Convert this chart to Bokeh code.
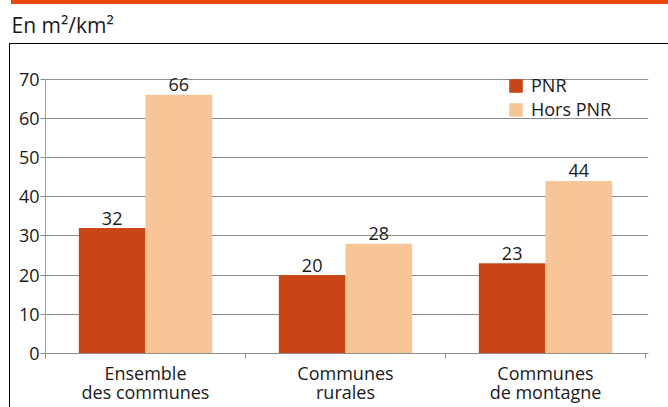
from bokeh.plotting import figure
from bokeh.models import (Range1d, FixedTicker, Legend, LegendItem, ColumnDataSource)
from bokeh.core.properties import value
from bokeh.embed import file_html
from bokeh.resources import INLINE

# ---- data ----
categories = ["Ensemble\ndes communes", "Communes\nrurales", "Communes\nde montagne"]
series_names = ["PNR", "Hors PNR"]
pnr = [32, 20, 23]
hors = [66, 28, 44]
y_ticks = [0, 10, 20, 30, 40, 50, 60, 70]
title_text = "En m\u00b2/km\u00b2"

# ---- style ----
FONT = "Open Sans"
C_PNR = "#C94516"
C_HORS = "#F8C696"
C_ORANGE = "#E8490F"
C_GRID = "#8C8C8C"
C_TEXT = "#1a1a1a"

# frame spans 45..357 px vertically; 0..70 occupies 79..357 px
Y_TOP = 70 + 34 * 70 / 278

p = figure(width=668, height=407, output_backend="svg", toolbar_location=None,
           x_range=Range1d(0, 3.015), y_range=Range1d(0, Y_TOP),
           min_border_left=45, min_border_right=20, min_border_top=45,
           min_border_bottom=50)
p.outline_line_color = None
p.background_fill_color = "white"
p.border_fill_color = None
p.border_fill_alpha = 0
# orange rule on top, and the black frame box (top + left edges)
p.styles = {
    "background-color": "white",
    "background-image": ("linear-gradient(%s, %s), "
                         "linear-gradient(#000000, #000000), "
                         "linear-gradient(#000000, #000000)") % (C_ORANGE, C_ORANGE),
    "background-position": "11px 0px, 9px 43px, 9px 43px",
    "background-size": "100% 4px, 100% 1px, 1px 100%",
    "background-repeat": "no-repeat",
}

# title
p.title.text = title_text
p.title.align = "left"
p.title.vertical_align = "bottom"
p.title.offset = -34
p.title.standoff = 13
p.title.text_font = FONT
p.title.text_font_size = "21px"
p.title.text_font_style = "normal"
p.title.text_color = C_TEXT

idx = list(range(len(categories)))
x_pnr = [i + 1 / 3 for i in idx]
x_hors = [i + 2 / 3 for i in idx]

src_p = ColumnDataSource(dict(x=x_pnr, top=pnr, lab=[str(v) for v in pnr]))
src_h = ColumnDataSource(dict(x=x_hors, top=hors, lab=[str(v) for v in hors]))

r1 = p.vbar(x="x", top="top", width=1 / 3, source=src_p, fill_color=C_PNR, line_color=None)
r2 = p.vbar(x="x", top="top", width=1 / 3, source=src_h, fill_color=C_HORS, line_color=None)

for s in (src_p, src_h):
    p.text(x="x", y="top", text="lab", source=s, text_align="center",
           text_baseline="alphabetic", y_offset=-10, text_font=value(FONT),
           text_font_size="18px", text_color=C_TEXT)

# axes
p.yaxis.ticker = FixedTicker(ticks=y_ticks)
p.yaxis.bounds = (0, 70)
p.yaxis.axis_line_color = "#A0A0A0"
p.yaxis.major_tick_line_color = C_GRID
p.yaxis.major_tick_out = 5
p.yaxis.major_tick_in = 0
p.yaxis.minor_tick_line_color = None
p.yaxis.major_label_standoff = 1
p.yaxis.major_label_text_font = FONT
p.yaxis.major_label_text_font_size = "18px"
p.yaxis.major_label_text_color = C_TEXT

p.xaxis.ticker = FixedTicker(ticks=[i + 0.5 for i in idx], minor_ticks=[0] + [i + 1 for i in idx])
p.xaxis.major_label_overrides = {i + 0.5: c for i, c in zip(idx, categories)}
p.xaxis.axis_line_color = C_GRID
p.xaxis.major_tick_line_color = None
p.xaxis.major_tick_out = 0
p.xaxis.major_tick_in = 0
p.xaxis.minor_tick_line_color = C_GRID
p.xaxis.minor_tick_out = 5
p.xaxis.minor_tick_in = 0
p.xaxis.major_label_standoff = 2
p.xaxis.major_label_text_font = FONT
p.xaxis.major_label_text_font_size = "18px"
p.xaxis.major_label_text_color = C_TEXT
p.xaxis.major_label_text_line_height = 0.82

p.xgrid.grid_line_color = None
p.ygrid.grid_line_color = C_GRID
p.ygrid.grid_line_width = 1

legend = Legend(items=[LegendItem(label=series_names[0], renderers=[r1]),
                       LegendItem(label=series_names[1], renderers=[r2])],
                location=(462, 232), orientation="vertical",
                glyph_width=17, glyph_height=17, label_height=17,
                label_standoff=7, spacing=-4, padding=0, margin=0,
                background_fill_alpha=0, border_line_color=None,
                label_text_font=FONT, label_text_font_size="18px",
                label_text_color=C_TEXT, label_text_baseline="middle")
p.add_layout(legend)

open("out.html", "w").write(file_html(p, INLINE))
